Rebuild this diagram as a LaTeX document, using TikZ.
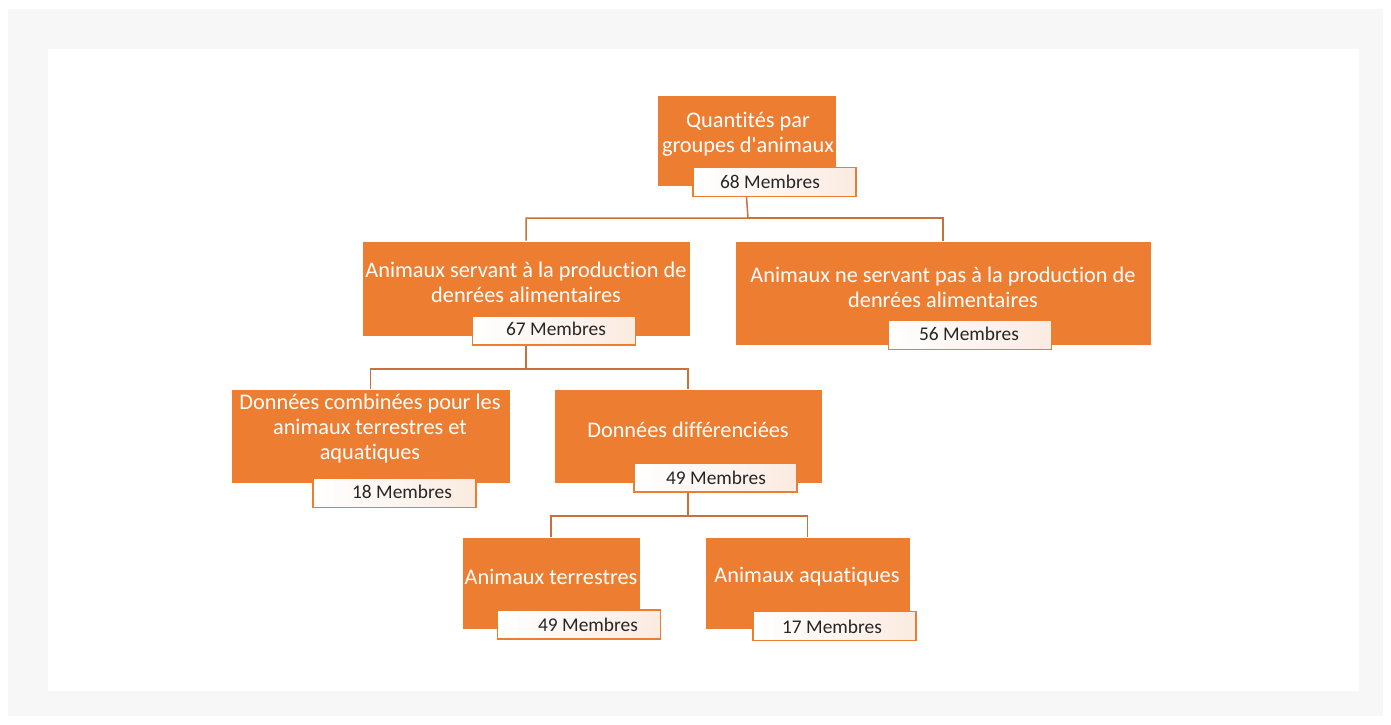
\documentclass[tikz,border=0pt]{standalone}
\usepackage{fontspec}
\setmainfont{Carlito}[Ligatures={NoCommon,TeXOff}]
\definecolor{org}{HTML}{ED7D31}
\definecolor{peach}{HTML}{FBEBE1}
\definecolor{conn}{HTML}{C8713A}
\definecolor{bggray}{HTML}{F7F7F7}
\tikzset{
  obox/.style={fill=org, draw=white, line width=0.8pt, inner sep=0pt, minimum width=#1},
  lbox/.style={draw=org, line width=1.4pt, left color=white, right color=peach, inner sep=0pt, minimum height=29pt, minimum width=163pt},
  wtxt/.style={text=white, align=center, font=\fontsize{22.3}{25}\selectfont, inner sep=0pt},
  btxt/.style={text=black!85, font=\fontsize{19.4}{22}\selectfont, inner sep=0pt},
  cline/.style={draw=conn, line width=1.5pt}
}
\begin{document}
\begin{tikzpicture}[x=1pt,y=-1pt]
\useasboundingbox (0,0) rectangle (1391,724);
\fill[white] (0,0) rectangle (1391,724);
\fill[bggray] (8,9) rectangle (1383,716);
\fill[white] (48,49) rectangle (1359,691);

% orange boxes
\node[obox=179pt, minimum height=91pt] (b1) at (746.5,140.5) {};
\node[obox=328pt, minimum height=95pt] (b2) at (526,288.5) {};
\node[obox=416pt, minimum height=104pt] (b3) at (943,293) {};
\node[obox=279pt, minimum height=94pt] (b4) at (370.5,436) {};
\node[obox=268pt, minimum height=94pt] (b5) at (688,436) {};
\node[obox=178pt, minimum height=92pt] (b6) at (551,583) {};
\node[obox=205pt, minimum height=92pt] (b7) at (807.5,583) {};

% box texts
\node[wtxt] (t1) at (748,134) {Quantités par\\groupes d'animaux};
\node[wtxt] (t2) at (526,282) {Animaux servant à la production de\\denrées alimentaires};
\node[wtxt] (t3) at (943,287) {Animaux ne servant pas à la production de\\denrées alimentaires};
\node[wtxt] (t4) at (370,429) {Données combinées pour les\\animaux terrestres et\\aquatiques};
\node[wtxt] (t5) at (688,430) {Données différenciées};
\node[wtxt] (t6) at (551,577) {Animaux terrestres};
\node[wtxt] (t7) at (807,577) {Animaux aquatiques};

% label boxes
\node[lbox] (l1) at (774.5,182) {};
\node[lbox] (l2) at (554,330.5) {};
\node[lbox] (l3) at (970,335) {};
\node[lbox] (l4) at (394.5,493) {};
\node[lbox] (l5) at (715.5,477.5) {};
\node[lbox] (l6) at (579,624.5) {};
\node[lbox] (l7) at (834.5,626) {};

\node[btxt] (m1) at (770,182) {68 Membres};
\node[btxt] (m2) at (556,329) {67 Membres};
\node[btxt] (m3) at (969,334) {56 Membres};
\node[btxt] (m4) at (402,492) {18 Membres};
\node[btxt] (m5) at (716,478) {49 Membres};
\node[btxt] (m6) at (588,625) {49 Membres};
\node[btxt] (m7) at (832,627) {17 Membres};

% connectors
\coordinate (j1) at (748,218);
\coordinate (j2) at (526,369);
\coordinate (j3) at (688,516);
\draw[cline] (b1.south |- l1.south) -- (j1) -| (b2.north);
\draw[cline] (j1) -| (b3.north);
\draw[cline] (b2.south |- l2.south) -- (j2) -| (b4.north);
\draw[cline] (j2) -| (b5.north);
\draw[cline] (b5.south |- l5.south) -- (j3) -| (b6.north);
\draw[cline] (j3) -| (b7.north);
\end{tikzpicture}
\end{document}
